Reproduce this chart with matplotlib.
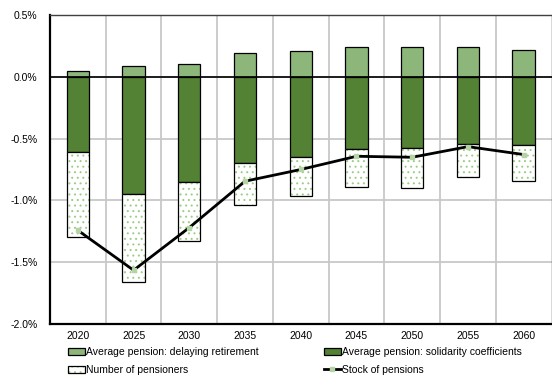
import matplotlib
matplotlib.use("Agg")
import matplotlib.pyplot as plt
import numpy as np
from matplotlib.patches import Patch
from matplotlib.lines import Line2D
from matplotlib.legend_handler import HandlerTuple

plt.rcParams['font.family'] = ['Liberation Sans', 'DejaVu Sans']
plt.rcParams['hatch.linewidth'] = 0.7

years = ["2020", "2025", "2030", "2035", "2040", "2045", "2050", "2055", "2060"]
delaying_retirement = [0.05, 0.09, 0.105, 0.195, 0.21, 0.24, 0.242, 0.245, 0.215]
solidarity_coefficients = [-0.61, -0.95, -0.852, -0.696, -0.651, -0.583, -0.578, -0.543, -0.551]
number_of_pensioners = [-0.683, -0.714, -0.476, -0.342, -0.31, -0.307, -0.322, -0.267, -0.296]
stock_of_pensions = [-1.242, -1.565, -1.22, -0.845, -0.75, -0.643, -0.651, -0.565, -0.629]
y_ticks = [0.5, 0.0, -0.5, -1.0, -1.5, -2.0]

light_green = "#8db67a"
dark_green = "#548235"
dot_green = "#9ccc86"
marker_green = "#b4d4a4"

fig = plt.figure(figsize=(5.52, 3.76), dpi=100)
ax = fig.add_axes([50 / 552, 1 - 324 / 376, 501.5 / 552, 309 / 376])

x = np.arange(len(years))
w = 0.4

ax.bar(x, delaying_retirement, w, color=light_green, edgecolor="black", linewidth=0.9, zorder=3)
ax.bar(x, solidarity_coefficients, w, color=dark_green, edgecolor="black", linewidth=0.9, zorder=3)
# dotted fill for the pensioner component, outline drawn separately in black
ax.bar(x, number_of_pensioners, w, bottom=solidarity_coefficients, color="white",
       edgecolor=dot_green, hatch="...", linewidth=0, zorder=3)
ax.bar(x, number_of_pensioners, w, bottom=solidarity_coefficients, fill=False,
       edgecolor="black", linewidth=0.9, zorder=3)

ax.plot(x, stock_of_pensions, color="black", linewidth=2, marker="s", markersize=3.5,
        markerfacecolor=marker_green, markeredgecolor=marker_green, zorder=4)

ax.axhline(0, color="black", linewidth=1.2, zorder=3.5)

ax.set_xlim(-0.5, len(years) - 0.5)
ax.set_ylim(-2.0, 0.5)
ax.set_yticks(y_ticks)
ax.set_yticklabels([f"{v:.1f}%" for v in y_ticks])
ax.set_xticks(x)
ax.set_xticklabels(years)
ax.set_xticks(np.arange(0.5, len(years) - 1, 1.0), minor=True)
ax.tick_params(axis="both", which="both", length=0, labelsize=7.5, pad=5)
ax.tick_params(axis="y", pad=9)
ax.grid(True, axis="y", which="major", color="#c8c8c8", linewidth=1.3, zorder=0)
ax.grid(True, axis="x", which="minor", color="#c8c8c8", linewidth=1.3, zorder=0)
ax.grid(False, axis="x", which="major")

for side in ("left", "bottom"):
    ax.spines[side].set_linewidth(1.6)
    ax.spines[side].set_color("black")
for side in ("top", "right"):
    ax.spines[side].set_linewidth(1.0)
    ax.spines[side].set_color("#404040")

h_delay = Patch(facecolor=light_green, edgecolor="black", linewidth=0.9)
h_pens = (Patch(facecolor="white", edgecolor=dot_green, hatch="...", linewidth=0),
          Patch(fill=False, edgecolor="black", linewidth=0.9))
h_solid = Patch(facecolor=dark_green, edgecolor="black", linewidth=0.9)
h_stock = Line2D([], [], color="black", linewidth=2, marker="s", markersize=3.5,
                 markerfacecolor=marker_green, markeredgecolor=marker_green)

leg_kw = dict(frameon=False, fontsize=7.5, handlelength=1.6, handleheight=0.7,
              handletextpad=0.1, labelspacing=0.75, borderpad=0, borderaxespad=0,
              loc="upper left", handler_map={tuple: HandlerTuple(ndivide=1, pad=0)})
fig.legend([h_delay, h_pens], ["Average pension: delaying retirement", "Number of pensioners"],
           bbox_to_anchor=(68 / 552, 1 - 347 / 376), **leg_kw)
fig.legend([h_solid, h_stock], ["Average pension: solidarity coefficients", "Stock of pensions"],
           bbox_to_anchor=(324 / 552, 1 - 347 / 376), **leg_kw)

fig.savefig("out.png", dpi=100)
